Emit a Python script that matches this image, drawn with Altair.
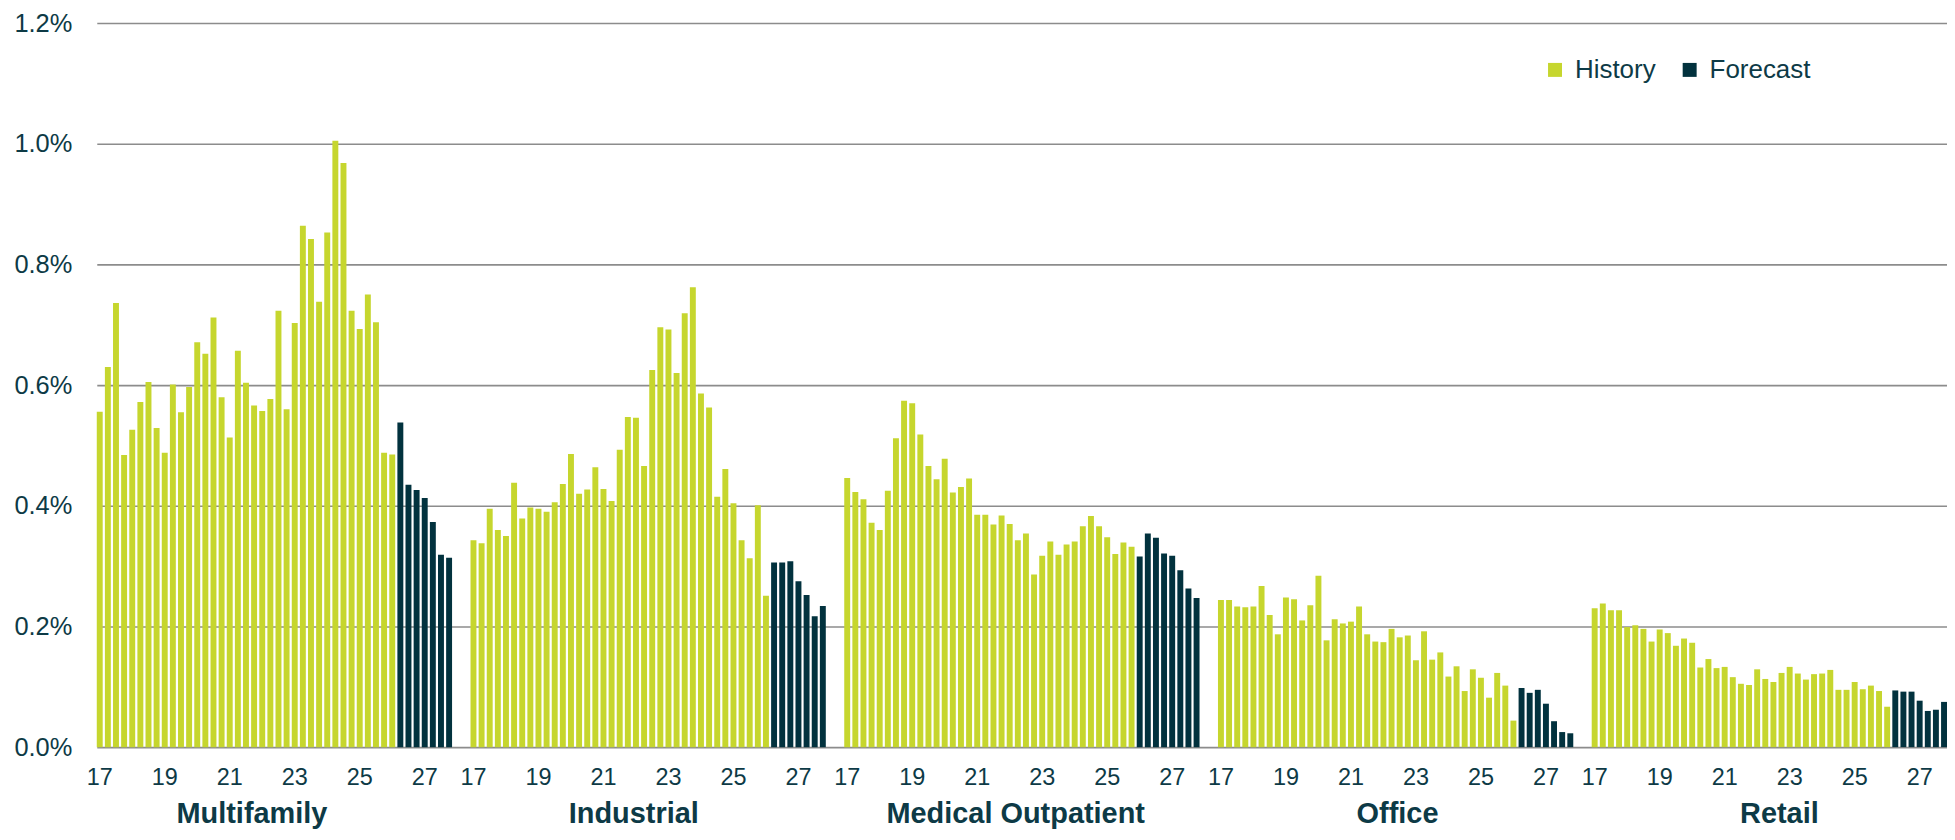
import altair as alt
import pandas as pd

# ---------------- data ----------------
groups = ["Multifamily", "Industrial", "Medical Outpatient", "Office", "Retail"]
year_labels = ["17", "18", "19", "20", "21", "22", "23", "24", "25", "26", "27"]
quarter_names = ["Q1", "Q2", "Q3", "Q4"]
tick_years = ["17", "19", "21", "23", "25", "27"]

# first forecast quarter per group
forecast_start = ["26Q2", "26Q2", "26Q1", "26Q2", "26Q2"]
# quarter under which each group's name is written
label_anchor = ["21Q3", "21Q4", "22Q1", "22Q2", "22Q3"]

# values in percent, 2017Q1 .. 2027Q4
multifamily = [0.556, 0.630, 0.736, 0.484, 0.526, 0.572, 0.605, 0.529, 0.488, 0.601,
               0.555, 0.597, 0.671, 0.652, 0.712, 0.580, 0.513, 0.657, 0.604, 0.566,
               0.557, 0.577, 0.723, 0.560, 0.703, 0.864, 0.842, 0.738, 0.853, 1.005,
               0.968, 0.723, 0.693, 0.750, 0.704, 0.488, 0.485,
               0.538, 0.435, 0.426, 0.413, 0.373, 0.319, 0.314]
industrial = [0.343, 0.338, 0.395, 0.360, 0.350, 0.438, 0.379, 0.397, 0.395, 0.390,
              0.406, 0.436, 0.486, 0.420, 0.427, 0.464, 0.428, 0.408, 0.493, 0.547,
              0.546, 0.466, 0.625, 0.696, 0.692, 0.620, 0.719, 0.762, 0.586, 0.563,
              0.415, 0.461, 0.404, 0.343, 0.313, 0.401, 0.251,
              0.306, 0.306, 0.308, 0.275, 0.252, 0.217, 0.234]
medical = [0.446, 0.423, 0.411, 0.372, 0.360, 0.425, 0.512, 0.574, 0.570, 0.518,
           0.466, 0.444, 0.478, 0.422, 0.431, 0.445, 0.385, 0.385, 0.369, 0.384,
           0.370, 0.343, 0.354, 0.286, 0.317, 0.341, 0.319, 0.336, 0.341, 0.366,
           0.383, 0.366, 0.348, 0.320, 0.339, 0.332,
           0.316, 0.354, 0.347, 0.321, 0.317, 0.293, 0.263, 0.247]
office = [0.244, 0.244, 0.233, 0.232, 0.233, 0.267, 0.219, 0.187, 0.248, 0.245,
          0.210, 0.235, 0.284, 0.177, 0.212, 0.205, 0.208, 0.233, 0.187, 0.175,
          0.174, 0.196, 0.182, 0.185, 0.144, 0.192, 0.145, 0.157, 0.117, 0.134,
          0.093, 0.129, 0.115, 0.082, 0.123, 0.102, 0.044,
          0.098, 0.090, 0.095, 0.072, 0.043, 0.025, 0.023]
retail = [0.230, 0.238, 0.227, 0.227, 0.199, 0.202, 0.196, 0.175, 0.195, 0.189,
          0.168, 0.180, 0.173, 0.132, 0.146, 0.131, 0.133, 0.116, 0.105, 0.103,
          0.129, 0.113, 0.108, 0.123, 0.133, 0.122, 0.112, 0.121, 0.122, 0.128,
          0.095, 0.095, 0.108, 0.096, 0.102, 0.093, 0.067,
          0.094, 0.092, 0.092, 0.077, 0.060, 0.062, 0.075]
series = [multifamily, industrial, medical, office, retail]

GREEN = "#c6d62e"
DARK = "#02323e"
TEXT = "#0d3a46"
FONT = "Liberation Sans"
PLOT_H = 726

# ---------------- build tables ----------------
quarters = [y + q for y in year_labels for q in quarter_names]
rows = []
domain = []
for gi, (g, vals) in enumerate(zip(groups, series)):
    fs = quarters.index(forecast_start[gi])
    for qi, (q, v) in enumerate(zip(quarters, vals)):
        key = f"{g}|{q}"
        domain.append(key)
        rows.append({"key": key, "value": v,
                     "period": "History" if qi < fs else "Forecast"})
    if gi < len(groups) - 1:
        domain += [f"gap{gi}a", f"gap{gi}b"]
df = pd.DataFrame(rows)

labels_df = pd.DataFrame({"key": [f"{g}|{a}" for g, a in zip(groups, label_anchor)],
                          "name": groups})
ticks_df = pd.DataFrame({"key": [f"{g}|{y}Q1" for g in groups for y in tick_years],
                         "label": [y for g in groups for y in tick_years]})

x_enc = alt.X(
    "key:O",
    scale=alt.Scale(domain=domain, paddingInner=0.27, paddingOuter=0),
    axis=None,
)

bars = alt.Chart(df).mark_bar().encode(
    x=x_enc,
    y=alt.Y(
        "value:Q",
        scale=alt.Scale(domain=[0, 1.2], nice=False),
        axis=alt.Axis(
            values=[0, 0.2, 0.4, 0.6, 0.8, 1.0, 1.2],
            labelExpr="format(datum.value, '.1f') + '%'",
            ticks=False, domain=False, grid=True, title=None,
            gridColor="#8c8c8c", gridWidth=1.6,
            labelFontSize=25.5, labelFont=FONT, labelColor=TEXT, labelPadding=25,
        ),
    ),
    color=alt.Color(
        "period:N",
        scale=alt.Scale(domain=["History", "Forecast"], range=[GREEN, DARK]),
        legend=alt.Legend(
            orient="none", legendX=1449, legendY=34, direction="horizontal",
            columns=2, title=None, symbolType="square", symbolSize=196,
            symbolStrokeWidth=0, symbolOpacity=1, labelFontSize=26,
            labelFont=FONT, labelColor=TEXT, labelOffset=7, columnPadding=21,
            padding=0,
        ),
    ),
)

ticks = alt.Chart(ticks_df).mark_text(
    fontSize=23.5, font=FONT, color=TEXT, align="center", baseline="middle",
).encode(
    x=x_enc,
    y=alt.value(PLOT_H + 31),
    text="label:N",
)

names = alt.Chart(labels_df).mark_text(
    fontSize=29, fontWeight="bold", font=FONT, color=TEXT,
    align="center", baseline="middle", dx=6,
).encode(
    x=x_enc,
    y=alt.value(PLOT_H + 67),
    text="name:N",
)

chart = alt.layer(bars, ticks, names).properties(
    width=1855, height=PLOT_H,
    padding={"left": 89, "top": 14, "right": 0, "bottom": 84},
    autosize=alt.AutoSizeParams(type="none"),
).configure_view(stroke=None)

chart.save("out.html", embed_options={"renderer": "svg", "actions": False})
